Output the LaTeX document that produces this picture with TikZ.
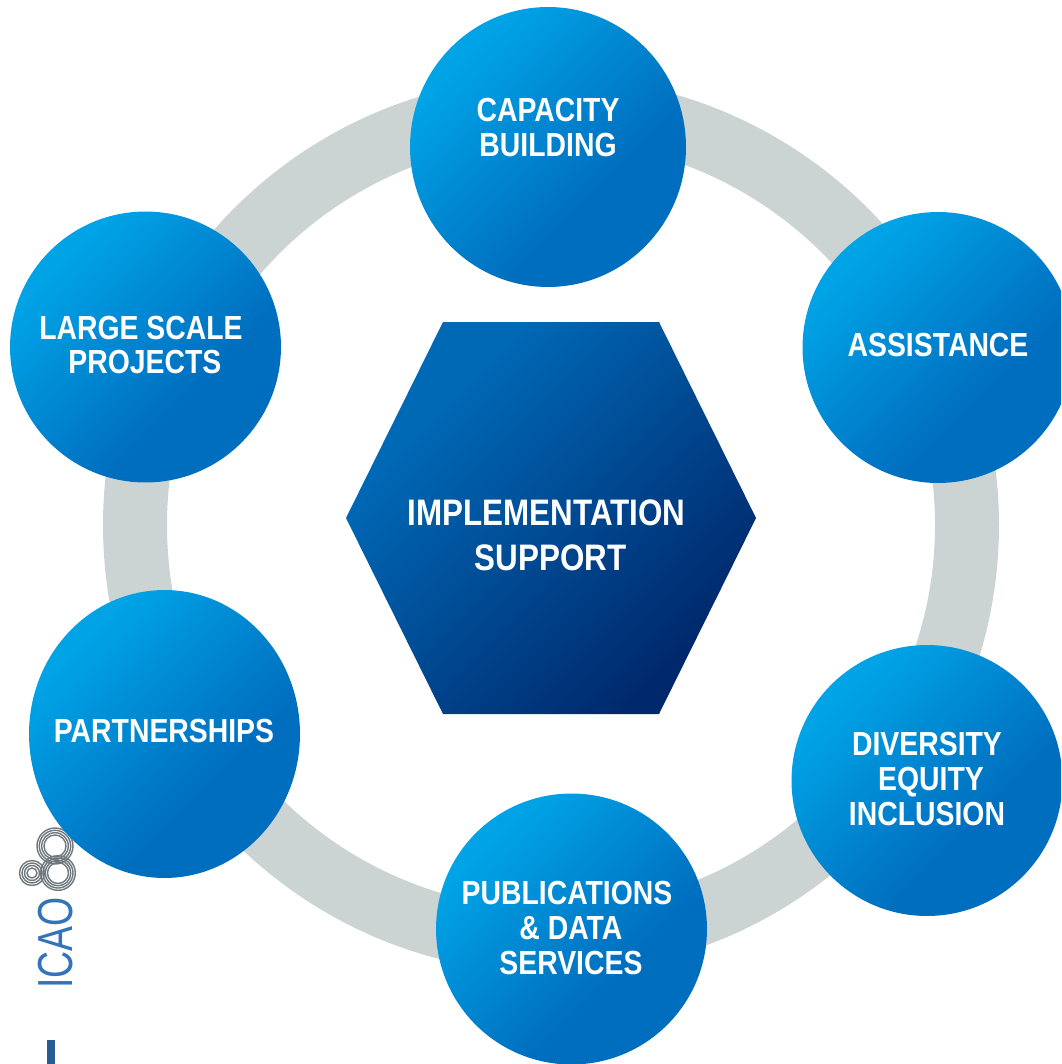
\documentclass[tikz,border=0pt]{standalone}
\usepackage{fontspec}
\usepackage{tikz}
\usetikzlibrary{shapes.geometric}
\setmainfont{Liberation Sans}
\newfontfamily\capfont[FakeStretch=0.85]{Liberation Sans Bold}
\definecolor{ringgrey}{RGB}{204,212,211}
\definecolor{ballA}{RGB}{0,163,230}
\definecolor{ballB}{RGB}{0,110,191}
\definecolor{hexA}{RGB}{0,105,182}
\definecolor{hexB}{RGB}{0,40,108}
\definecolor{logoblue}{RGB}{50,115,185}
\definecolor{logogrey}{RGB}{110,120,125}
\pgfdeclarehorizontalshading{ballshade}{100bp}{color(0bp)=(ballA); color(28bp)=(ballA); color(62bp)=(ballB); color(100bp)=(ballB)}
\pgfdeclarehorizontalshading{hexshade}{100bp}{color(0bp)=(hexA); color(30bp)=(hexA); color(74bp)=(hexB); color(100bp)=(hexB)}
\newcommand{\nudge}{\hspace*{4.5pt}}
\tikzset{
  ball/.style={ellipse,inner sep=0pt,shading=ballshade,shading angle=-45},
  balltext/.style={text=white,align=center,font=\capfont\fontsize{19}{19.8}\selectfont},
  hextext/.style={text=white,align=center,font=\capfont\fontsize{21}{25.5}\selectfont},
}
\begin{document}
\begin{tikzpicture}[x=0.02cm,y=-0.02cm]
\useasboundingbox (0,0) rectangle (1061,1064);
\clip (0,0) rectangle (1061,1064);
\draw[ringgrey,line width=1.28cm] (551,525) circle (416);
% logo
\foreach \r in {11,13.3,15.7,18} \draw[logogrey,line width=0.8pt] (55,846) circle (\r);
\foreach \r in {10.5,12.8,15,17.3} \draw[logogrey,line width=0.8pt] (58,873) circle (\r);
\foreach \r in {5,7.5,10,12.5} \draw[logogrey,line width=0.8pt] (32,873) circle (\r);
\node[rotate=90,inner sep=0pt,xscale=0.76,text=logoblue,font=\fontsize{28}{28}\selectfont] (logotext) at (56,943) {ICAO};
\fill[logoblue!80!black] (47,1040) rectangle (55,1064);
% circles
\node[ball,minimum width=5.52cm,minimum height=5.6cm] (capacity) at (548,147) {};
\node[ball,minimum width=5.42cm,minimum height=5.42cm] (assistance) at (938,347.5) {};
\node[ball,minimum width=5.42cm,minimum height=5.42cm] (large) at (145.5,347) {};
\node[ball,minimum width=5.42cm,minimum height=5.76cm] (partners) at (164.5,734) {};
\node[ball,minimum width=5.42cm,minimum height=5.42cm] (diversity) at (927,780.5) {};
\node[ball,minimum width=5.42cm,minimum height=5.42cm] (publications) at (571.5,929) {};
% hexagon
\shade[shading=hexshade,shading angle=-45] (346,518) -- (443,322) -- (659,322) -- (756,518) -- (659,714) -- (443,714) -- cycle;
% labels
\node[balltext] (capacitytext) at (548,127.5) {CAPACITY\\BUILDING};
\node[balltext] (assistancetext) at (938,345) {ASSISTANCE};
\node[balltext] (largetext) at (141,345) {LARGE SCALE\\\nudge PROJECTS};
\node[balltext] (partnerstext) at (164,731) {PARTNERSHIPS};
\node[balltext] (diversitytext) at (927,779) {DIVERSITY\\\nudge EQUITY\\INCLUSION};
\node[balltext] (publicationstext) at (567,928) {PUBLICATIONS\\\nudge\& DATA\\\nudge SERVICES};
\node[hextext] (hextitle) at (546.5,535) {IMPLEMENTATION\\\nudge SUPPORT};
\end{tikzpicture}
\end{document}
